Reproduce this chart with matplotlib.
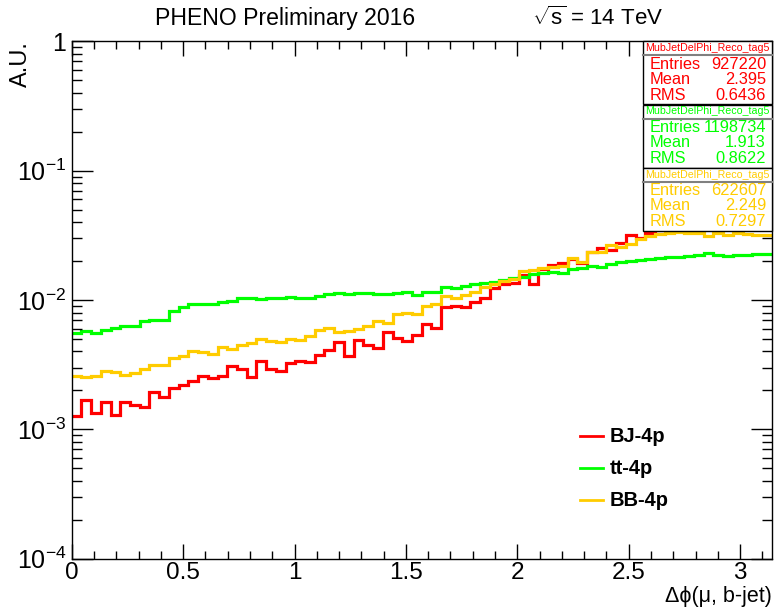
import numpy as np
import matplotlib
matplotlib.use("Agg")
import matplotlib.pyplot as plt
from matplotlib.patches import Rectangle
from matplotlib.lines import Line2D
from matplotlib.ticker import LogLocator, FixedLocator, MultipleLocator, FixedFormatter

plt.rcParams['font.family'] = ['Liberation Sans', 'DejaVu Sans']
plt.rcParams['mathtext.fontset'] = 'custom'
plt.rcParams['mathtext.rm'] = 'Liberation Sans'
plt.rcParams['mathtext.it'] = 'Liberation Sans:italic'
plt.rcParams['mathtext.bf'] = 'Liberation Sans:bold'

# ---------------- data ----------------
n_bins = 72
x_min, x_max = 0.0, np.pi

bj_4p = [1.27e-3, 1.69e-3, 1.34e-3, 1.64e-3, 1.30e-3, 1.62e-3, 1.53e-3, 1.49e-3,
         1.95e-3, 1.78e-3, 2.08e-3, 2.22e-3, 2.38e-3, 2.59e-3, 2.49e-3, 2.58e-3,
         3.06e-3, 2.94e-3, 2.54e-3, 3.37e-3, 2.95e-3, 2.80e-3, 3.28e-3, 3.39e-3,
         3.30e-3, 3.77e-3, 4.12e-3, 4.72e-3, 3.69e-3, 4.89e-3, 4.50e-3, 4.29e-3,
         5.64e-3, 5.06e-3, 4.83e-3, 5.38e-3, 6.50e-3, 6.12e-3, 8.79e-3, 8.91e-3,
         8.90e-3, 9.62e-3, 1.03e-2, 1.23e-2, 1.32e-2, 1.35e-2, 1.57e-2, 1.34e-2,
         1.75e-2, 1.85e-2, 1.93e-2, 2.06e-2, 1.93e-2, 2.37e-2, 2.52e-2, 2.44e-2,
         2.75e-2, 3.19e-2, 3.01e-2, 3.27e-2, 3.45e-2, 3.60e-2, 3.70e-2, 3.80e-2,
         3.90e-2, 4.00e-2, 4.00e-2, 4.10e-2, 4.10e-2, 4.20e-2, 4.10e-2, 4.20e-2]

tt_4p = [5.54e-3, 5.71e-3, 5.56e-3, 5.88e-3, 6.05e-3, 6.31e-3, 6.31e-3, 6.82e-3,
         7.03e-3, 7.03e-3, 8.25e-3, 8.75e-3, 9.27e-3, 9.27e-3, 9.35e-3, 9.57e-3,
         9.86e-3, 1.045e-2, 1.03e-2, 1.01e-2, 1.03e-2, 1.045e-2, 1.06e-2, 1.045e-2,
         1.03e-2, 1.065e-2, 1.11e-2, 1.13e-2, 1.11e-2, 1.13e-2, 1.14e-2, 1.12e-2,
         1.12e-2, 1.13e-2, 1.16e-2, 1.10e-2, 1.16e-2, 1.16e-2, 1.27e-2, 1.24e-2,
         1.29e-2, 1.33e-2, 1.35e-2, 1.37e-2, 1.43e-2, 1.47e-2, 1.51e-2, 1.58e-2,
         1.61e-2, 1.65e-2, 1.63e-2, 1.73e-2, 1.78e-2, 1.84e-2, 1.80e-2, 1.91e-2,
         1.95e-2, 1.99e-2, 2.05e-2, 2.08e-2, 2.13e-2, 2.15e-2, 2.15e-2, 2.19e-2,
         2.24e-2, 2.29e-2, 2.21e-2, 2.17e-2, 2.21e-2, 2.24e-2, 2.26e-2, 2.26e-2]

bb_4p = [2.59e-3, 2.53e-3, 2.59e-3, 2.83e-3, 2.76e-3, 2.64e-3, 2.72e-3, 2.92e-3,
         3.15e-3, 3.15e-3, 3.55e-3, 3.70e-3, 4.04e-3, 3.94e-3, 3.82e-3, 4.33e-3,
         4.21e-3, 4.50e-3, 4.67e-3, 5.01e-3, 4.83e-3, 4.75e-3, 5.01e-3, 4.87e-3,
         5.31e-3, 5.91e-3, 6.05e-3, 5.70e-3, 5.78e-3, 5.98e-3, 6.34e-3, 6.87e-3,
         6.69e-3, 7.76e-3, 8.00e-3, 7.83e-3, 8.98e-3, 9.25e-3, 1.065e-2, 1.04e-2,
         1.10e-2, 1.16e-2, 1.26e-2, 1.34e-2, 1.41e-2, 1.46e-2, 1.69e-2, 1.70e-2,
         1.77e-2, 1.80e-2, 1.83e-2, 2.13e-2, 1.97e-2, 2.35e-2, 2.35e-2, 2.65e-2,
         2.59e-2, 2.72e-2, 2.94e-2, 3.10e-2, 3.23e-2, 3.30e-2, 3.33e-2, 3.30e-2,
         3.27e-2, 3.13e-2, 3.32e-2, 3.19e-2, 3.30e-2, 3.24e-2, 3.18e-2, 3.19e-2]

series_labels = ["BJ-4p", "tt-4p", "BB-4p"]
series_colors = ["#ff0000", "#00ff00", "#ffcc00"]

stat_title = "MubJetDelPhi_Reco_tag5"
stat_entries = ["927220", "1198734", "622607"]
stat_means = ["2.395", "1.913", "2.249"]
stat_rms = ["0.6436", "0.8622", "0.7297"]

x_ticks = [0, 0.5, 1, 1.5, 2, 2.5, 3]
x_tick_labels = ["0", "0.5", "1", "1.5", "2", "2.5", "3"]
y_ticks = [1e-4, 1e-3, 1e-2, 1e-1, 1]
y_tick_labels = [r"$10^{-4}$", r"$10^{-3}$", r"$10^{-2}$", r"$10^{-1}$", "1"]

# ---------------- figure ----------------
W, H = 774, 607
fig = plt.figure(figsize=(W / 100, H / 100), dpi=100)
fig.patch.set_facecolor("white")

L, R, T, B = 71.7, 771.7, 41.4, 558.6
ax = fig.add_axes([L / W, 1 - B / H, (R - L) / W, (B - T) / H])

edges = np.linspace(x_min, x_max, n_bins + 1)
for vals, col, lab in zip([bj_4p, tt_4p, bb_4p], series_colors, series_labels):
    ax.stairs(vals, edges, color=col, lw=2.3, baseline=None, label=lab)

ax.set_yscale("log")
ax.set_xlim(x_min, x_max)
ax.set_ylim(1e-4, 1)

ax.xaxis.set_major_locator(FixedLocator(x_ticks))
ax.xaxis.set_major_formatter(FixedFormatter(x_tick_labels))
ax.xaxis.set_minor_locator(MultipleLocator(0.1))
ax.yaxis.set_major_locator(FixedLocator(y_ticks))
ax.yaxis.set_major_formatter(FixedFormatter(y_tick_labels))
ax.yaxis.set_minor_locator(LogLocator(base=10, subs=np.arange(2, 10)))
ax.yaxis.set_minor_formatter(plt.NullFormatter())

ax.tick_params(axis="both", which="both", direction="in", top=True, right=True,
               width=1, color="black", labelsize=18)
ax.tick_params(axis="x", which="major", length=11, pad=2.5, labelsize=17.5)
ax.tick_params(axis="x", which="minor", length=5.5)
ax.tick_params(axis="y", which="major", length=15, pad=4)
ax.tick_params(axis="y", which="minor", length=7.5)
for s in ax.spines.values():
    s.set_linewidth(1)

# axis titles
fig.text(R / W, 1 - 602 / H, "Δϕ(μ, b-jet)", ha="right", va="baseline", fontsize=15.5)
fig.text(21 / W, 1 - 41 / H, "A.U.", ha="center", va="top", rotation=90, fontsize=17)

# header texts
fig.text(285 / W, 1 - 18 / H, "PHENO Preliminary 2016", ha="center", va="center", fontsize=16.6)
fig.text(598 / W, 1 - 18 / H, r"$\sqrt{\mathrm{s}}$ = 14 TeV", ha="center", va="center", fontsize=16)

# legend
for i, lab in enumerate(series_labels):
    yy = 1 - (436 + 32 * i) / H
    fig.add_artist(Line2D([580 / W, 603 / W], [yy, yy], color=series_colors[i], lw=2,
                          transform=fig.transFigure))
    fig.text(610 / W, yy, lab, ha="left", va="center", fontsize=14.5, fontweight="bold")

# stat boxes
bx0, bx1 = 643, 771.7
tops = [41.4, 104.5, 167.5]
box_h = 63
title_h = 14
row_h = 15.5
for i in range(3):
    top = tops[i]
    col = series_colors[i]
    rect = Rectangle((bx0 / W, 1 - (top + box_h) / H), (bx1 - bx0) / W, box_h / H,
                     transform=fig.transFigure, facecolor="white", edgecolor="black",
                     lw=1, zorder=10)
    fig.add_artist(rect)
    sep_y = 1 - (top + title_h) / H
    fig.add_artist(Line2D([bx0 / W, bx1 / W], [sep_y, sep_y], color="#808080", lw=1.5,
                          transform=fig.transFigure, zorder=11))
    fig.text((bx0 + bx1) / 2 / W, 1 - (top + title_h / 2) / H, stat_title, ha="center",
             va="center", fontsize=7.7, color=col, zorder=12)
    rows = [("Entries", stat_entries[i]), ("Mean", stat_means[i]), ("RMS", stat_rms[i])]
    for j, (nm, val) in enumerate(rows):
        yy = 1 - (top + title_h + row_h * (j + 0.5) + 1) / H
        fig.text(650 / W, yy, nm, ha="left", va="center", fontsize=11.8, color=col, zorder=12)
        fig.text(766 / W, yy, val, ha="right", va="center", fontsize=11.8, color=col, zorder=12)

fig.savefig("out.png", dpi=100, facecolor="white")
